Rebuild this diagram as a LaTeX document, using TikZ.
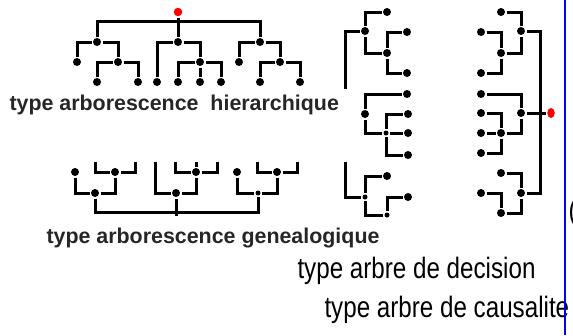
\documentclass[tikz,border=0pt]{standalone}
\usepackage{fontspec}
\setmainfont{Liberation Sans}
\newfontfamily\narrowfont[FakeStretch=0.82]{Liberation Sans}
\usepackage{xcolor}
\usepackage{tikz}
\usetikzlibrary{arrows.meta,positioning,shapes.geometric}

\begin{document}
\begin{tikzpicture}[>=Stealth,x=1pt,y=-1pt,line width=3pt]
\tikzstyle{dot}=[circle,fill,inner sep=0pt,minimum size=8pt]
\tikzstyle{rdot}=[circle,fill=red,inner sep=0pt,minimum size=8.5pt]
\tikzstyle{bmp}=[inner sep=0pt,anchor=base west,text=black!85,font=\fontsize{21.4}{24}\selectfont\bfseries]
\tikzstyle{lbl}=[inner sep=0pt,anchor=base west,font=\fontsize{29.5}{32}\selectfont\narrowfont]
\useasboundingbox (0,0) rectangle (573,335);

% arborescence hierarchique
\node[rdot] (hr) at (178,12) {};
\coordinate (hbar) at (178,21);
\node[dot] (ha) at (97,42) {};
\node[dot] (hb) at (178,42) {};
\node[dot] (hc) at (260,42) {};
\draw (hr) -- (hb);
\draw (ha) |- (hbar) -| (hc);
\node[dot] (ha1) at (77,62) {};
\node[dot] (ha2) at (118,62) {};
\node[dot] (ha21) at (97,82) {};
\node[dot] (ha22) at (138,82) {};
\draw (ha1) |- (ha) -| (ha2);
\draw (ha21) |- (ha2) -| (ha22);
\node[dot] (hb1) at (157,82) {};
\node[dot] (hb2) at (200,62) {};
\node[dot] (hb21) at (178,82) {};
\node[dot] (hb22) at (200,82) {};
\node[dot] (hb23) at (221,82) {};
\draw (hb1) |- (hb) -| (hb2);
\draw (hb21) |- (hb2) -| (hb23);
\draw (hb2) -- (hb22);
\node[dot] (hc1) at (239,62) {};
\node[dot] (hc2) at (280,62) {};
\node[dot] (hc21) at (260,82) {};
\node[dot] (hc22) at (300,82) {};
\draw (hc1) |- (hc) -| (hc2);
\draw (hc21) |- (hc2) -| (hc22);
\node[bmp] (thier) at (8,110) {type arborescence\ \ hierarchique};

% arborescence genealogique
\coordinate (groot) at (176,216);
\coordinate (gbar) at (176,212);
\node[dot] (ga) at (95,193) {};
\node[dot] (gb) at (176,193) {};
\node[dot,minimum size=5pt] (gc) at (258,193) {};
\draw (gb) -- (groot);
\draw (ga) |- (gbar) -| (gc);
\node[dot] (ga1) at (75,172) {};
\node[dot] (ga2) at (115,172) {};
\coordinate (ga21) at (95,162);
\coordinate (ga22) at (135,162);
\draw (ga1) |- (ga) -| (ga2);
\draw (ga21) |- (ga2) -| (ga22);
\coordinate (gb1) at (155,162);
\node[dot] (gb2) at (196,172) {};
\coordinate (gb21) at (175,162);
\coordinate (gb22) at (196,162);
\coordinate (gb23) at (217,162);
\draw (gb1) |- (gb) -| (gb2);
\draw (gb21) |- (gb2) -| (gb23);
\draw (gb2) -- (gb22);
\node[dot] (gc1) at (237,172) {};
\node[dot] (gc2) at (277,172) {};
\coordinate (gc21) at (257,162);
\coordinate (gc22) at (297,162);
\draw (gc1) |- (gc) -| (gc2);
\draw (gc21) |- (gc2) -| (gc22);
\node[bmp] (tgen) at (45,243) {type arborescence genealogique};

% arbre de decision
\coordinate (da0) at (345,89);
\node[dot] (da) at (365,31) {};
\node[dot] (da1) at (387,12) {};
\node[dot] (da2) at (387,53) {};
\node[dot] (da21) at (407,32) {};
\node[dot] (da22) at (407,73) {};
\draw (da0) |- (da);
\draw (da1) -| (da) |- (da2);
\draw (da21) -| (da2) |- (da22);
\node[dot] (db) at (365,114) {};
\node[dot] (db1) at (407,94) {};
\node[dot,minimum size=5pt] (db2) at (386,133) {};
\node[dot] (db21) at (408,114) {};
\node[dot] (db22) at (408,133) {};
\node[dot] (db23) at (408,155) {};
\draw (db1) -| (db) |- (db2);
\draw (db21) -| (db2) |- (db23);
\draw (db2) -- (db22);
\coordinate (dc0) at (345,162);
\node[dot,minimum size=5pt] (dc) at (365,197) {};
\node[dot] (dc1) at (387,176) {};
\node[dot,minimum size=5pt] (dc2) at (387,215) {};
\node[dot] (dc21) at (408,197) {};
\draw (dc0) |- (dc);
\draw (dc1) -| (dc) |- (dc2);
\draw (dc21) -| (dc2);
\node[lbl] (tdec) at (296,278) {type arbre de decision};

% arbre de causalite
\node[rdot,ellipse,minimum width=7.5pt,minimum height=10pt] (cr) at (551,113) {};
\coordinate (cbar) at (540,113);
\node[dot] (ca) at (521,31) {};
\node[dot] (cb) at (521,113) {};
\node[dot] (cc) at (521,193) {};
\draw (ca) -| (cbar) |- (cc);
\draw (cb) -- (cr);
\node[dot] (ca1) at (501,12) {};
\node[dot] (ca2) at (501,53) {};
\node[dot] (ca21) at (481,32) {};
\node[dot] (ca22) at (481,73) {};
\draw (ca1) -| (ca) |- (ca2);
\draw (ca21) -| (ca2) |- (ca22);
\node[dot] (cb1) at (481,94) {};
\node[dot] (cb2) at (501,133) {};
\node[dot] (cb21) at (481,113) {};
\node[dot] (cb22) at (481,133) {};
\node[dot] (cb23) at (481,153) {};
\draw (cb1) -| (cb) |- (cb2);
\draw (cb22) -- (cb2);
\draw (cb21) -| (cb2) |- (cb23);
\node[dot] (cc1) at (501,173) {};
\node[dot] (cc2) at (501,213) {};
\node[dot] (cc21) at (481,193) {};
\draw (cc1) -| (cc) |- (cc2);
\draw (cc21) -| (cc2);
\node[lbl] (tcau) at (323,317) {type arbre de causalite};

% bord
\draw[blue,line width=2.5pt] (565,0) -- (565,335);
\node[lbl] (tpar) at (567,220) {(};
\end{tikzpicture}
\end{document}
